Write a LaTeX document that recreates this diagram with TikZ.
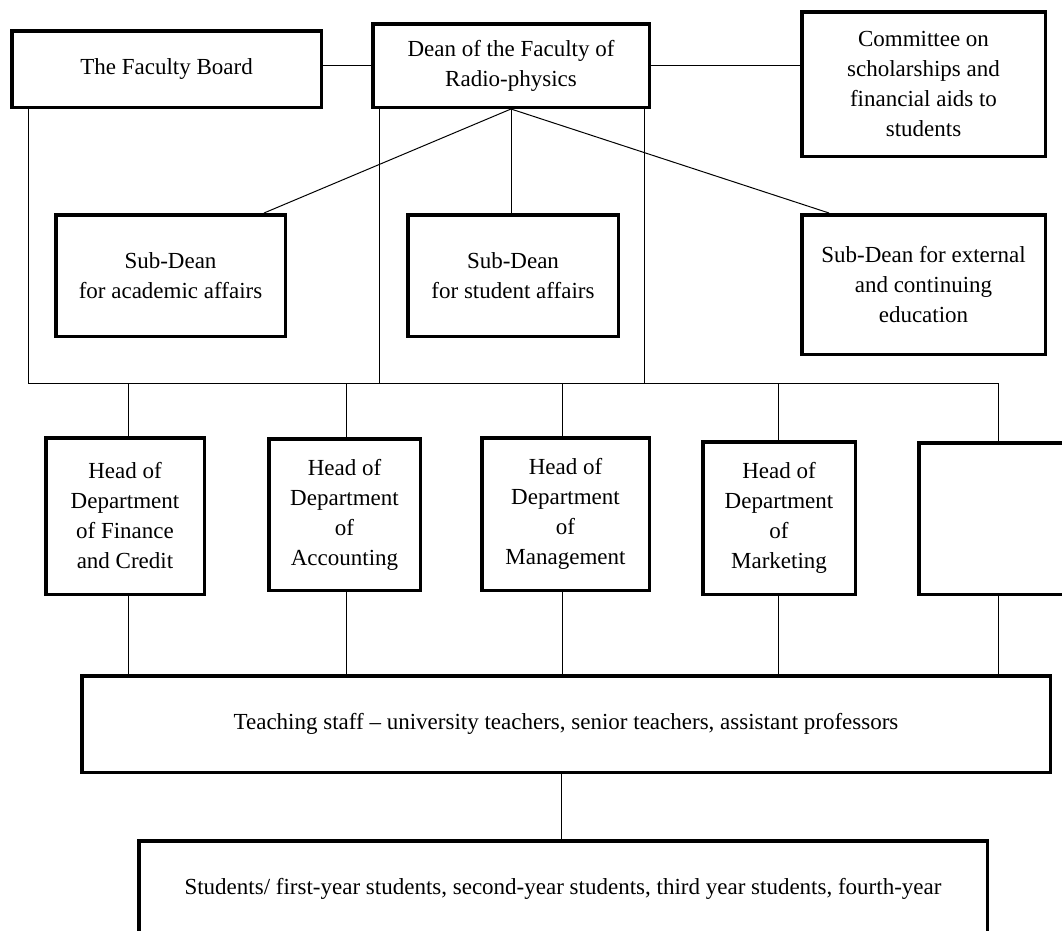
\documentclass[tikz,border=0pt]{standalone}
\usepackage{fontspec}
\setmainfont{Liberation Serif}
\usetikzlibrary{calc}
\begin{document}
\begin{tikzpicture}[x=1pt,y=-1pt]
	\tikzstyle{unit}=[draw, line width=3.5pt, align=center, inner sep=0pt, font=\fontsize{23}{30}\selectfont]
	\tikzstyle{link}=[line width=1pt]
	\useasboundingbox (0,0) rectangle (1062,930);
	\fill [white] (0,0) rectangle (1062,930);
	\clip (0,0) rectangle (1062,930);
	% top level
	\node [unit, minimum width=309.5pt, minimum height=76.5pt] (board) at (166.5,69) {The Faculty Board};
	\node [unit, minimum width=276.5pt, minimum height=83.5pt] (dean) at (511,65.5) {Dean of the Faculty of\\Radio-physics};
	\node [unit, minimum width=243.5pt, minimum height=144.5pt] (cmte) at (923.5,84) {Committee on\\scholarships and\\financial aids to\\students};
	% sub-deans
	\node [unit, minimum width=229.5pt, minimum height=121.5pt] (acad) at (170.5,275.5) {Sub-Dean\\for academic affairs};
	\node [unit, minimum width=210.5pt, minimum height=121.5pt] (stud) at (513,275.5) {Sub-Dean\\for student affairs};
	\node [unit, minimum width=243.5pt, minimum height=139.5pt] (ext) at (923.5,284.5) {Sub-Dean for external\\and continuing\\education};
	% heads of departments
	\node [unit, minimum width=158.5pt, minimum height=156.5pt] (fin) at (125,516) {Head of\\Department\\of Finance\\and Credit};
	\node [unit, minimum width=151.5pt, minimum height=151.5pt] (acc) at (344.5,514.5) {Head of\\Department\\of\\Accounting};
	\node [unit, minimum width=167.5pt, minimum height=152.5pt] (man) at (565.5,514) {Head of\\Department\\of\\Management};
	\node [unit, minimum width=152.5pt, minimum height=152.5pt] (mkt) at (779,518) {Head of\\Department\\of\\Marketing};
	\node [unit, minimum width=158.5pt, minimum height=151.5pt] (blank) at (998,518.5) {};
	% staff and students
	\node [unit, minimum width=968.5pt, minimum height=96.5pt] (teach) at (566,724) {Teaching staff -- university teachers, senior teachers, assistant professors};
	\node [unit, minimum width=848.5pt, minimum height=96.5pt] (year) at (563,889) {Students/ first-year students, second-year students, third year students, fourth-year};
	% links
	\draw [link] (dean.west) -- (dean.west -| board.east);
	\draw [link] (dean.east) -- (dean.east -| cmte.west);
	\draw [link] (dean.south) -- ([xshift=-23pt]acad.north east);
	\draw [link] (dean.south) -- (dean.south |- stud.north);
	\draw [link] (dean.south) -- ([xshift=29pt]ext.north west);
	\coordinate (busL) at (28,383);
	\coordinate (busR) at (998,383);
	\coordinate (dl) at ([xshift=8pt]dean.south west);
	\coordinate (dr) at ([xshift=-7pt]dean.south east);
	\draw [link] (busL |- board.south) -- (busL) -- (busR) -- (blank.north);
	\draw [link] (dl) -- (dl |- busL);
	\draw [link] (dr) -- (dr |- busL);
	\foreach \n/\d in {fin/3,acc/1.5,man/-3.5,mkt/-1,blank/0} {
		\coordinate (t) at ([xshift=\d pt]\n.north);
		\coordinate (b) at ([xshift=\d pt]\n.south);
		\ifx\n\blank\else\draw [link] (t) -- (t |- busL);\fi
		\draw [link] (b) -- (b |- teach.north);
	}
	\draw [link] ([xshift=-2pt]year.north) -- ([xshift=-2pt]year.north |- teach.south);
\end{tikzpicture}
\end{document}
